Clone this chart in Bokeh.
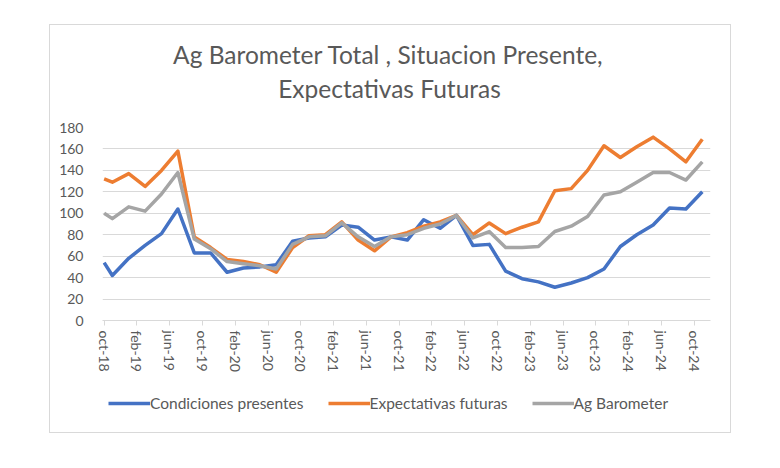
from bokeh.plotting import figure
from bokeh.models import (Range1d, FixedTicker, Legend, LegendItem, Label, Plot,
                          ColumnDataSource, Line)
from bokeh.layouts import column
from bokeh.embed import file_html
from bokeh.resources import INLINE

# --- data ---------------------------------------------------------------
tick_months = [0, 4, 8, 12, 16, 20, 24, 28, 32, 36, 40, 44, 48, 52, 56, 60, 64, 68, 72]
tick_labels = ["oct-18", "feb-19", "jun-19", "oct-19", "feb-20", "jun-20", "oct-20",
               "feb-21", "jun-21", "oct-21", "feb-22", "jun-22", "oct-22", "feb-23",
               "jun-23", "oct-23", "feb-24", "jun-24", "oct-24"]

# month index (0 = oct-18)
months = [0, 1, 3, 5, 7, 9, 11, 13, 15, 17, 19, 21, 23, 25, 27, 29, 31, 33, 35,
          37, 39, 41, 43, 45, 47, 49, 51, 53, 55, 57, 59, 61, 63, 65, 67, 69, 71, 73]

condiciones = [54, 42, 58, 70, 81, 104, 63, 63, 45, 49, 50, 52, 74, 77, 78, 89, 87, 75, 78,
               75, 94, 86, 98, 70, 71, 46, 39, 36, 31, 35, 40, 48, 69, 80, 89, 105, 104, 120]
expectativas = [132, 129, 137, 125, 140, 158, 78, 68, 57, 55, 52, 45, 68, 79, 80, 92, 75, 65, 78,
                82, 88, 92, 98, 80, 91, 81, 87, 92, 121, 123, 140, 163, 152, 162, 171, 160, 148, 169]
barometer = [100, 95, 106, 102, 118, 138, 76, 67, 55, 53, 51, 48, 71, 78, 79, 91, 78, 69, 78,
             80, 86, 90, 98, 77, 83, 68, 68, 69, 83, 88, 97, 117, 120, 129, 138, 138, 131, 148]

series_names = ["Condiciones presentes", "Expectativas futuras", "Ag Barometer"]
series_colors = ["#4472C4", "#ED7D31", "#A5A5A5"]
title_lines = ["Ag Barometer Total , Situacion Presente,", "Expectativas Futuras"]

# --- styling ------------------------------------------------------------
FONT = "Lato"
TXT = "#595959"
GRID = "#d9d9d9"
W = 680
BL, BR = 52, 20          # frame borders (shared by all stacked plots)
FW = W - BL - BR         # frame width in px

# --- header (title) -----------------------------------------------------
HH = 92
head = Plot(width=W, height=HH, x_range=Range1d(0, FW), y_range=Range1d(0, HH),
            min_border=0, min_border_left=BL, min_border_right=BR,
            outline_line_color=None, toolbar_location=None,
            output_backend="svg", border_fill_color="white", background_fill_color="white")
for txt, (tx, ty) in zip(title_lines, [(286, 63), (287, 29)]):
    head.add_layout(Label(x=tx, y=ty, text=txt, text_align="center", text_baseline="middle",
                          text_font=FONT, text_font_size="24.5px", text_color=TXT))

# --- main chart ---------------------------------------------------------
p = figure(width=W, height=268, output_backend="svg", toolbar_location=None,
           x_range=Range1d(-0.2, 74.0), y_range=Range1d(0, 180),
           min_border_left=BL, min_border_right=BR, min_border_top=10, min_border_bottom=65)
p.outline_line_color = None
p.background_fill_color = "white"
p.border_fill_color = "white"

for vals, col in zip([condiciones, expectativas, barometer], series_colors):
    p.line(months, vals, line_color=col, line_width=3.5, line_join="round")

p.xaxis.ticker = FixedTicker(ticks=tick_months)
p.xaxis.major_label_overrides = {m: l for m, l in zip(tick_months, tick_labels)}
p.xaxis.major_label_orientation = "vertical"
p.xaxis.axis_line_color = GRID
p.xaxis.major_tick_line_color = GRID
p.xaxis.major_tick_out = 5
p.xaxis.major_tick_in = 0
p.xaxis.minor_tick_line_color = None
p.xaxis.major_label_standoff = 5
p.xaxis.major_label_text_font = FONT
p.xaxis.major_label_text_font_size = "14px"
p.xaxis.major_label_text_color = TXT

p.yaxis.ticker = FixedTicker(ticks=list(range(0, 181, 20)))
p.yaxis.axis_line_color = None
p.yaxis.major_tick_line_color = None
p.yaxis.minor_tick_line_color = None
p.yaxis.major_label_standoff = 13
p.yaxis.major_label_text_font = FONT
p.yaxis.major_label_text_font_size = "14px"
p.yaxis.major_label_text_color = TXT

p.xgrid.grid_line_color = None
p.ygrid.grid_line_color = GRID
p.ygrid.grid_line_width = 1

# --- legend strip -------------------------------------------------------
LH = 47
leg = Plot(width=W, height=LH, x_range=Range1d(0, 1), y_range=Range1d(1000, 1001),
           min_border=0, min_border_left=BL, min_border_right=BR,
           outline_line_color=None, toolbar_location=None,
           output_backend="svg", border_fill_color="white", background_fill_color="white")
items = []
for name, vals, col in zip(series_names, [condiciones, expectativas, barometer], series_colors):
    src = ColumnDataSource(dict(x=months, y=vals))
    r = leg.add_glyph(src, Line(x="x", y="y", line_color=col, line_width=3.5))
    items.append(LegendItem(label=name, renderers=[r]))
legend = Legend(items=items, orientation="horizontal", location=(6, 20),
                glyph_width=42, glyph_height=16, label_standoff=0, spacing=24,
                border_line_color=None, background_fill_alpha=0,
                label_text_font=FONT, label_text_font_size="15.5px", label_text_color=TXT,
                padding=0, margin=0)
leg.add_layout(legend)

layout = column(head, p, leg, spacing=0)
layout.margin = (25, 0, 0, 50)
layout.styles = {"outline": "1.5px solid #d9d9d9"}

open("out.html", "w").write(file_html(layout, INLINE))
